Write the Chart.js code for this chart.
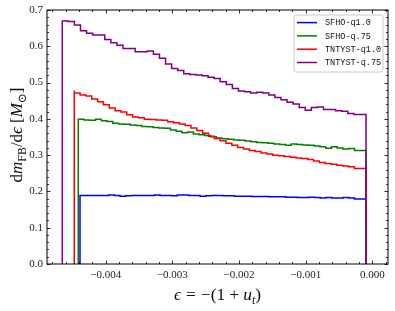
<!DOCTYPE html>
<html>
<head>
<meta charset="utf-8">
<script src="https://cdn.jsdelivr.net/npm/chart.js@4.4.0/dist/chart.umd.min.js"></script>
<style>
  html, body { margin: 0; padding: 0; background: #fff; }
  canvas { display: block; }
</style>
</head>
<body>
<canvas id="c" width="395" height="311"></canvas>
<script>
const runNames = ['SFHO-q1.0', 'SFHO-q.75', 'TNTYST-q1.0', 'TNTYST-q.75'];
const runColors = ['#0000ff', '#008000', '#ff0000', '#800080'];

// first and last bin edge of each histogram (50 bins each)
const binStart = [-0.004385, -0.004411, -0.004471, -0.004651];
const binEnd = [-0.0000945, -0.0000945, -0.0000945, -0.0000945];

// dm_FB/de per bin
const sfhoQ10 = [
  0.186, 0.189, 0.189, 0.189, 0.189, 0.189, 0.190, 0.189, 0.187, 0.188,
  0.189, 0.189, 0.189, 0.189, 0.190, 0.189, 0.189, 0.188, 0.190, 0.190,
  0.189, 0.189, 0.187, 0.188, 0.189, 0.189, 0.188, 0.188, 0.187, 0.187,
  0.187, 0.186, 0.186, 0.186, 0.185, 0.185, 0.185, 0.184, 0.184, 0.183,
  0.183, 0.184, 0.183, 0.182, 0.183, 0.182, 0.182, 0.183, 0.182, 0.179
];
const sfhoQ75 = [
  0.401, 0.399, 0.397, 0.396, 0.399, 0.395, 0.393, 0.388, 0.386, 0.385,
  0.383, 0.382, 0.379, 0.378, 0.376, 0.375, 0.374, 0.369, 0.366, 0.362,
  0.364, 0.358, 0.356, 0.354, 0.351, 0.347, 0.345, 0.344, 0.342, 0.341,
  0.339, 0.337, 0.335, 0.334, 0.333, 0.331, 0.329, 0.327, 0.331, 0.329,
  0.328, 0.327, 0.325, 0.323, 0.319, 0.323, 0.320, 0.317, 0.318, 0.313
];
const tntystQ10 = [
  0.478, 0.471, 0.466, 0.463, 0.455, 0.447, 0.439, 0.430, 0.422, 0.419,
  0.411, 0.405, 0.403, 0.399, 0.398, 0.397, 0.396, 0.392, 0.389, 0.386,
  0.382, 0.375, 0.368, 0.360, 0.352, 0.346, 0.340, 0.333, 0.327, 0.321,
  0.317, 0.313, 0.310, 0.306, 0.303, 0.300, 0.298, 0.296, 0.294, 0.292,
  0.291, 0.288, 0.284, 0.280, 0.277, 0.275, 0.272, 0.270, 0.268, 0.263
];
const tntystQ75 = [
  0.666, 0.670, 0.668, 0.659, 0.643, 0.636, 0.631, 0.631, 0.619, 0.610,
  0.603, 0.594, 0.594, 0.585, 0.585, 0.587, 0.578, 0.567, 0.551, 0.539,
  0.533, 0.524, 0.522, 0.521, 0.519, 0.515, 0.511, 0.502, 0.495, 0.484,
  0.477, 0.475, 0.471, 0.473, 0.471, 0.466, 0.459, 0.453, 0.446, 0.441,
  0.431, 0.424, 0.431, 0.433, 0.426, 0.426, 0.422, 0.421, 0.415, 0.412
];
const runValues = [sfhoQ10, sfhoQ75, tntystQ10, tntystQ75];

const xTicks = [-0.004, -0.003, -0.002, -0.001, 0.0];
const xTickLabels = ['\u22120.004', '\u22120.003', '\u22120.002', '\u22120.001', '0.000'];
const yTicks = [0.0, 0.1, 0.2, 0.3, 0.4, 0.5, 0.6, 0.7];
const yTickLabels = ['0.0', '0.1', '0.2', '0.3', '0.4', '0.5', '0.6', '0.7'];

// step outline like matplotlib histtype='step'
function stepPoints(lo, hi, vals) {
  const n = vals.length;
  const w = (hi - lo) / n;
  const pts = [{ x: lo, y: 0 }];
  vals.forEach((v, i) => pts.push({ x: lo + i * w, y: v }));
  pts.push({ x: hi, y: vals[n - 1] });
  pts.push({ x: hi, y: 0 });
  return pts;
}

const datasets = runNames.map((name, i) => ({
  label: name,
  data: stepPoints(binStart[i], binEnd[i], runValues[i]),
  borderColor: runColors[i],
  borderWidth: 1.5,
  stepped: 'after',
  pointRadius: 0,
  fill: false,
  order: runNames.length - 1 - i
}));

const SERIF = '"Liberation Serif", "DejaVu Serif", serif';

// draws a row of math-ish text pieces, centred on (0,0); {gap} adds space
function drawMath(ctx, parts, size) {
  const fontFor = p => {
    const s = p.sub ? size * 0.7 : size;
    return (p.it ? 'italic ' : '') + s + 'px ' + SERIF;
  };
  let total = 0;
  parts.forEach(p => {
    if (p.gap) { p.w = p.gap; } else { ctx.font = fontFor(p); p.w = ctx.measureText(p.t).width; }
    total += p.w;
  });
  let x = -total / 2;
  ctx.textBaseline = 'alphabetic';
  ctx.textAlign = 'left';
  parts.forEach(p => {
    if (!p.gap) {
      ctx.font = fontFor(p);
      ctx.fillText(p.t, x, p.sub ? size * 0.22 : 0);
    }
    x += p.w;
  });
}

const decor = {
  id: 'decor',
  afterDraw(chart) {
    const ctx = chart.ctx;
    const a = chart.chartArea;
    const xs = chart.scales.x, ys = chart.scales.y;
    ctx.save();

    // frame
    ctx.strokeStyle = '#000';
    ctx.lineWidth = 1;
    ctx.strokeRect(a.left, a.top, a.right - a.left, a.bottom - a.top);

    // inward ticks on all four sides
    ctx.lineWidth = 0.8;
    ctx.beginPath();
    for (let k = -25; k <= 1; k++) {
      const v = k * 0.0002;
      const px = Math.round(xs.getPixelForValue(v)) + 0.5;
      if (px < a.left || px > a.right) continue;
      const len = k % 5 === 0 ? 3.5 : 2;
      ctx.moveTo(px, a.bottom); ctx.lineTo(px, a.bottom - len);
      ctx.moveTo(px, a.top); ctx.lineTo(px, a.top + len);
    }
    for (let k = 0; k <= 35; k++) {
      const py = Math.round(ys.getPixelForValue(k * 0.02)) + 0.5;
      const len = k % 5 === 0 ? 3.5 : 2;
      ctx.moveTo(a.left, py); ctx.lineTo(a.left + len, py);
      ctx.moveTo(a.right, py); ctx.lineTo(a.right - len, py);
    }
    ctx.stroke();

    // legend box
    const bx = 294, by = 15, bw = 89, bh = 57, r = 2;
    ctx.beginPath();
    ctx.moveTo(bx + r, by);
    ctx.arcTo(bx + bw, by, bx + bw, by + bh, r);
    ctx.arcTo(bx + bw, by + bh, bx, by + bh, r);
    ctx.arcTo(bx, by + bh, bx, by, r);
    ctx.arcTo(bx, by, bx + bw, by, r);
    ctx.closePath();
    ctx.fillStyle = 'rgba(255,255,255,0.8)';
    ctx.fill();
    ctx.strokeStyle = '#cccccc';
    ctx.lineWidth = 1;
    ctx.stroke();
    ctx.font = '8.5px "Liberation Mono", "DejaVu Sans Mono", monospace';
    ctx.textBaseline = 'middle';
    ctx.textAlign = 'left';
    chart.data.datasets.forEach((ds, i) => {
      const yy = 22.6 + i * 13.3;
      ctx.strokeStyle = ds.borderColor;
      ctx.lineWidth = 1.5;
      ctx.beginPath();
      ctx.moveTo(297, yy); ctx.lineTo(317, yy);
      ctx.stroke();
      ctx.fillStyle = '#111';
      ctx.fillText(ds.label, 325, yy + 0.5);
    });

    // axis titles
    ctx.fillStyle = '#111';
    ctx.save();
    ctx.translate((a.left + a.right) / 2, 300);
    drawMath(ctx, [
      { t: '\u03F5', it: true }, { gap: 5 }, { t: '=' }, { gap: 5 },
      { t: '\u2212(1' }, { gap: 4 }, { t: '+' }, { gap: 4 }, { t: 'u', it: true },
      { t: 't', it: true, sub: true }, { t: ')' }
    ], 17.5);
    ctx.restore();
    ctx.save();
    ctx.translate(22, (a.top + a.bottom) / 2 - 2);
    ctx.rotate(-Math.PI / 2);
    drawMath(ctx, [
      { t: 'd' }, { t: 'm', it: true }, { t: 'FB', sub: true }, { t: '/d' },
      { t: '\u03F5', it: true }, { gap: 4 }, { t: '[' }, { t: 'M', it: true },
      { t: '\u2299', sub: true }, { t: ']' }
    ], 17);
    ctx.restore();

    ctx.restore();
  }
};

new Chart(document.getElementById('c'), {
  type: 'line',
  data: { datasets },
  plugins: [decor],
  options: {
    responsive: false,
    devicePixelRatio: 1,
    animation: false,
    layout: { padding: { top: 10, right: 7, bottom: 0, left: 0 } },
    plugins: { legend: { display: false }, tooltip: { enabled: false } },
    scales: {
      x: {
        type: 'linear',
        min: -0.00488,
        max: 0.000235,
        afterBuildTicks: s => { s.ticks = xTicks.map(v => ({ value: v })); },
        afterFit: s => { s.height = 47; s.paddingLeft = 0; s.paddingRight = 0; },
        grid: { display: false, drawTicks: false },
        border: { display: false },
        ticks: {
          padding: 5,
          maxRotation: 0,
          color: '#222',
          font: { family: SERIF, size: 11 },
          callback: v => xTickLabels[xTicks.findIndex(t => Math.abs(t - v) < 1e-9)]
        }
      },
      y: {
        min: 0,
        max: 0.7,
        afterBuildTicks: s => { s.ticks = yTicks.map(v => ({ value: v })); },
        afterFit: s => { s.width = 47; s.paddingTop = 0; s.paddingBottom = 0; },
        grid: { display: false, drawTicks: false },
        border: { display: false },
        ticks: {
          padding: 4,
          color: '#222',
          font: { family: SERIF, size: 11 },
          callback: v => yTickLabels[yTicks.findIndex(t => Math.abs(t - v) < 1e-9)]
        }
      }
    }
  }
});
</script>
</body>
</html>
